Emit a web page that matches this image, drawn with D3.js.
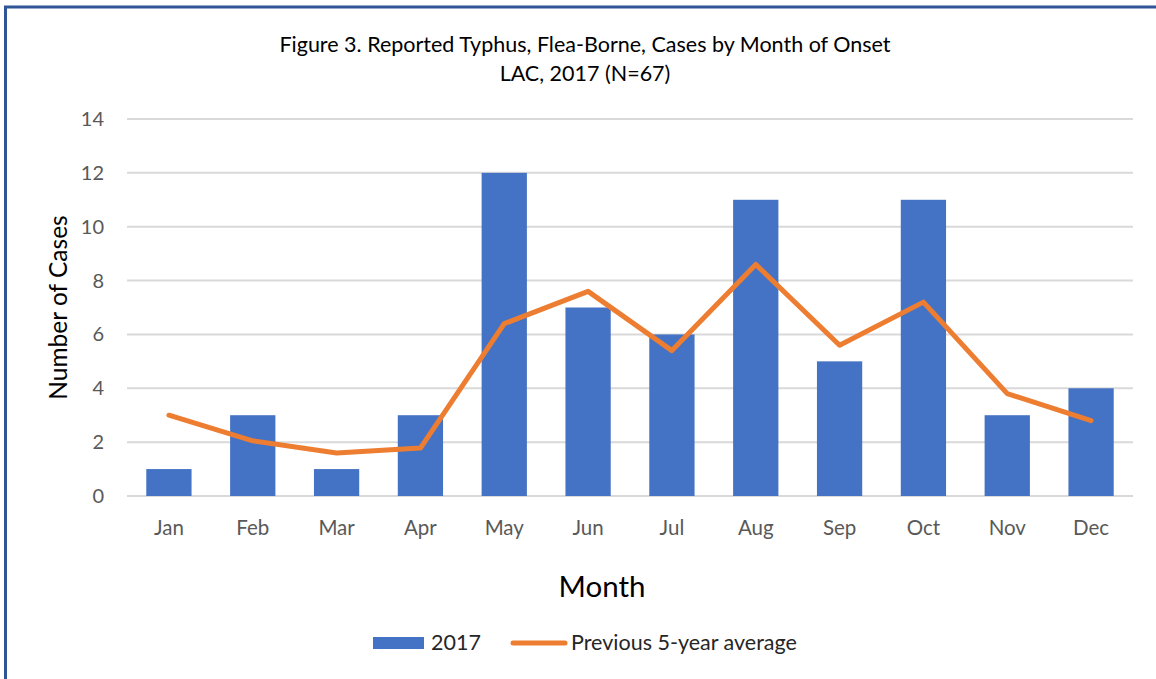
<!DOCTYPE html>
<html>
<head>
<meta charset="utf-8">
<script src="https://cdn.jsdelivr.net/npm/d3@7"></script>
<style>
  body { margin: 0; background: #fff; }
  svg { display: block; font-family: Lato, "Open Sans", sans-serif; }
</style>
</head>
<body>
<div id="chart"></div>
<script>
const months = ['Jan', 'Feb', 'Mar', 'Apr', 'May', 'Jun', 'Jul', 'Aug', 'Sep', 'Oct', 'Nov', 'Dec'];
const cases2017 = [1, 3, 1, 3, 12, 7, 6, 11, 5, 11, 3, 4];
const prevAvg = [3, 2.05, 1.6, 1.78, 6.4, 7.6, 5.4, 8.6, 5.6, 7.2, 3.8, 2.8];
const yTicks = [0, 2, 4, 6, 8, 10, 12, 14];

const width = 1156;
const height = 679;
const plot = { left: 127, right: 1133, top: 119, bottom: 496 };

const svg = d3.select('#chart').append('svg')
  .attr('width', width)
  .attr('height', height);

// frame
svg.append('path')
  .attr('d', `M 5.5 ${height} L 5.5 7 L ${width} 7`)
  .attr('fill', 'none')
  .attr('stroke', '#2F5597')
  .attr('stroke-width', 3);

const x = d3.scaleBand().domain(months).range([plot.left, plot.right]).paddingInner(0.46).paddingOuter(0.23);
const y = d3.scaleLinear().domain([0, 14]).range([plot.bottom, plot.top]);

// gridlines
svg.append('g')
  .selectAll('line')
  .data(yTicks)
  .join('line')
  .attr('x1', plot.left)
  .attr('x2', plot.right)
  .attr('y1', (d) => y(d))
  .attr('y2', (d) => y(d))
  .attr('stroke', '#d9d9d9')
  .attr('stroke-width', 2);

// y tick labels
svg.append('g')
  .selectAll('text')
  .data(yTicks)
  .join('text')
  .attr('x', 104)
  .attr('y', (d) => y(d))
  .attr('dy', '0.35em')
  .attr('text-anchor', 'end')
  .attr('font-size', 20)
  .attr('fill', '#595959')
  .text((d) => d);

// bars
svg.append('g')
  .selectAll('rect')
  .data(cases2017)
  .join('rect')
  .attr('x', (d, i) => x(months[i]))
  .attr('y', (d) => y(d))
  .attr('width', x.bandwidth())
  .attr('height', (d) => y(0) - y(d))
  .attr('fill', '#4472C4');

// line
const line = d3.line()
  .x((d, i) => x(months[i]) + x.bandwidth() / 2)
  .y((d) => y(d));

svg.append('path')
  .attr('d', line(prevAvg))
  .attr('fill', 'none')
  .attr('stroke', '#ED7D31')
  .attr('stroke-width', 5)
  .attr('stroke-linecap', 'round')
  .attr('stroke-linejoin', 'round');

// x tick labels
svg.append('g')
  .selectAll('text')
  .data(months)
  .join('text')
  .attr('x', (d) => x(d) + x.bandwidth() / 2)
  .attr('y', 535)
  .attr('text-anchor', 'middle')
  .attr('font-size', 20.5)
  .attr('fill', '#595959')
  .text((d) => d);

// titles
svg.append('text')
  .attr('x', 585).attr('y', 52)
  .attr('text-anchor', 'middle')
  .attr('font-size', 21.5)
  .attr('fill', '#000')
  .text('Figure 3. Reported Typhus, Flea-Borne, Cases by Month of Onset');

svg.append('text')
  .attr('x', 585).attr('y', 81)
  .attr('text-anchor', 'middle')
  .attr('font-size', 21.5)
  .attr('fill', '#000')
  .text('LAC, 2017 (N=67)');

svg.append('text')
  .attr('transform', `translate(67,${(plot.top + plot.bottom) / 2}) rotate(-90)`)
  .attr('text-anchor', 'middle')
  .attr('font-size', 24.5)
  .attr('fill', '#000')
  .text('Number of Cases');

svg.append('text')
  .attr('x', 602).attr('y', 597)
  .attr('text-anchor', 'middle')
  .attr('font-size', 29.5)
  .attr('fill', '#000')
  .text('Month');

// legend
const legend = svg.append('g');
legend.append('rect')
  .attr('x', 373).attr('y', 637).attr('width', 51).attr('height', 12)
  .attr('fill', '#4472C4');
legend.append('text')
  .attr('x', 431).attr('y', 650)
  .attr('font-size', 21.5)
  .attr('fill', '#262626')
  .text('2017');
legend.append('line')
  .attr('x1', 513).attr('x2', 565).attr('y1', 643).attr('y2', 643)
  .attr('stroke', '#ED7D31').attr('stroke-width', 5).attr('stroke-linecap', 'round');
legend.append('text')
  .attr('x', 571).attr('y', 650)
  .attr('font-size', 21.5)
  .attr('fill', '#262626')
  .text('Previous 5-year average');
</script>
</body>
</html>
